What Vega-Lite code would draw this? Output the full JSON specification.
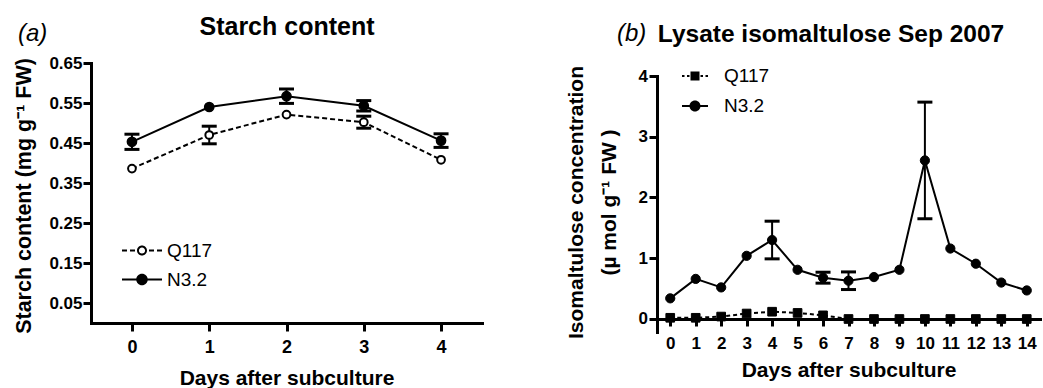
{
  "$schema": "https://vega.github.io/schema/vega-lite/v6.json",
  "background": "white",
  "padding": {"left": 13, "top": 14, "right": 2, "bottom": 0},
  "bounds": "flush",
  "spacing": 175,
  "resolve": {"scale": {"shape": "independent"}},
  "config": {
    "view": {"stroke": null},
    "font": "Liberation Sans",
    "axis": {
      "domainColor": "black", "domainWidth": 3, "domainCap": "square",
      "tickColor": "black", "tickWidth": 3,
      "labelColor": "black", "titleColor": "black",
      "labelFont": "Liberation Sans", "titleFont": "Liberation Sans",
      "labelFontWeight": "bold", "titleFontWeight": "bold",
      "grid": false, "labelOverlap": false, "labelFlush": false, "labelBound": false
    },
    "title": {"color": "black", "font": "Liberation Sans"}
  },
  "hconcat": [
    {
      "width": 391,
      "height": 260,
      "title": {"text": "(a)", "anchor": "start", "frame": "group", "dx": -73, "offset": -32, "fontSize": 24, "fontStyle": "italic", "fontWeight": "normal"},
      "data": {"values": [
        {"day": 0, "series": "Q117", "mean": 0.386},
        {"day": 1, "series": "Q117", "mean": 0.470, "err": 0.022},
        {"day": 2, "series": "Q117", "mean": 0.521},
        {"day": 3, "series": "Q117", "mean": 0.502, "err": 0.015},
        {"day": 4, "series": "Q117", "mean": 0.408},
        {"day": 0, "series": "N3.2", "mean": 0.453, "err": 0.019},
        {"day": 1, "series": "N3.2", "mean": 0.540},
        {"day": 2, "series": "N3.2", "mean": 0.567, "err": 0.018},
        {"day": 3, "series": "N3.2", "mean": 0.543, "err": 0.013},
        {"day": 4, "series": "N3.2", "mean": 0.456, "err": 0.017}
      ]},
      "encoding": {
        "x": {"field": "day", "type": "quantitative", "scale": {"domain": [-0.53, 4.53], "nice": false, "zero": false}, "axis": null},
        "y": {"field": "mean", "type": "quantitative", "scale": {"domain": [0, 0.65], "nice": false, "zero": false},
          "axis": {"title": "Starch content (mg g⁻¹ FW)", "values": [0.05, 0.15, 0.25, 0.35, 0.45, 0.55, 0.65], "format": ".2f",
            "labelFontSize": 17, "tickSize": 8, "labelPadding": 1, "titleFontSize": 21.5,
            "titleX": -60.5, "titleY": 132.5, "titleAlign": "center", "titleBaseline": "alphabetic", "titleAngle": 270}}
      },
      "layer": [
        {
          "transform": [{"filter": "datum.series === 'Q117'"}],
          "mark": {"type": "line", "color": "black", "strokeWidth": 2, "strokeDash": [5, 3]},
          "encoding": {
            "x": {"field": "day", "type": "quantitative", "scale": {"domain": [-0.53, 4.53], "nice": false, "zero": false},
              "axis": {"title": "Days after subculture", "values": [0, 1, 2, 3, 4], "format": "d", "labelFontSize": 18, "tickSize": 8, "labelPadding": 7,
                "titleFontSize": 21, "titleX": 195.5, "titleY": 61, "titleAlign": "center", "titleBaseline": "alphabetic"}}
          }
        },
        {
          "transform": [{"filter": "datum.series === 'N3.2'"}],
          "mark": {"type": "line", "color": "black", "strokeWidth": 2},
          "encoding": {}
        },
        {
          "transform": [{"filter": "isValid(datum.err)"}],
          "mark": {"type": "errorbar", "color": "black", "thickness": 2, "opacity": 1, "ticks": {"size": 15, "thickness": 3, "color": "black", "opacity": 1}, "rule": {"opacity": 1}},
          "encoding": {"yError": {"field": "err"}}
        },
        {
          "transform": [{"filter": "datum.series === 'Q117'"}],
          "mark": {"type": "point", "shape": "circle", "filled": true, "fill": "white", "stroke": "black", "strokeWidth": 2, "size": 60, "opacity": 1},
          "encoding": {}
        },
        {
          "transform": [{"filter": "datum.series === 'N3.2'"}],
          "mark": {"type": "point", "shape": "circle", "filled": true, "fill": "black", "stroke": "black", "strokeWidth": 1.5, "size": 85, "opacity": 1},
          "encoding": {}
        },
        {
          "mark": {"type": "point", "filled": true, "fill": "black", "strokeWidth": 0, "size": 100, "opacity": 0},
          "encoding": {
            "x": {"field": "day", "type": "quantitative", "scale": {"domain": [-0.53, 4.53], "nice": false, "zero": false},
              "axis": {"orient": "top", "title": "Starch content", "labels": false, "ticks": false, "domain": false,
                "titleFontSize": 25, "titleX": 195.5, "titleY": -29, "titleAlign": "center", "titleBaseline": "alphabetic"}},
            "shape": {"field": "series", "type": "nominal",
              "scale": {"domain": ["Q117", "N3.2"], "range": [
                "M-4,-0.2H-3V0.2H-4Z M-2.4,-0.2H-1.4V0.2H-2.4Z M1.4,-0.2H2.4V0.2H1.4Z M3,-0.2H4V0.2H3Z M1,0C1,0.55 0.55,1 0,1C-0.55,1 -1,0.55 -1,0C-1,-0.55 -0.55,-1 0,-1C0.55,-1 1,-0.55 1,0Z M0.62,0C0.62,-0.34 0.34,-0.62 0,-0.62C-0.34,-0.62 -0.62,-0.34 -0.62,0C-0.62,0.34 -0.34,0.62 0,0.62C0.34,0.62 0.62,0.34 0.62,0Z",
                "M-4,-0.2H-1V0.2H-4Z M1,-0.2H4V0.2H1Z M1.15,0C1.15,0.64 0.64,1.15 0,1.15C-0.64,1.15 -1.15,0.64 -1.15,0C-1.15,-0.64 -0.64,-1.15 0,-1.15C0.64,-1.15 1.15,-0.64 1.15,0Z"
              ]},
              "legend": {"title": null, "orient": "none", "legendX": 41.5, "legendY": 178, "padding": 0,
                "labelFontSize": 19, "labelFont": "Liberation Sans", "labelColor": "black", "labelOffset": 15.5, "rowPadding": 9,
                "symbolSize": 100, "symbolStrokeWidth": 0, "symbolOpacity": 1, "symbolFillColor": "black"}}
          }
        }
      ],
      "resolve": {"axis": {"x": "independent"}}
    },
    {
      "spacing": 0,
      "bounds": "flush",
      "resolve": {"scale": {"shape": "independent"}},
      "vconcat": [
        {"width": 383, "height": 13, "data": {"values": [{}]}, "mark": {"type": "point", "opacity": 0}},
        {
          "width": 383,
          "height": 256,
          "title": {"text": "(b)", "anchor": "start", "frame": "group", "dx": -40, "offset": -24.5, "fontSize": 24, "fontStyle": "italic", "fontWeight": "normal"},
          "data": {"values": [
            {"day": 0, "series": "Q117", "mean": 0.02},
            {"day": 1, "series": "Q117", "mean": 0.02},
            {"day": 2, "series": "Q117", "mean": 0.04},
            {"day": 3, "series": "Q117", "mean": 0.09},
            {"day": 4, "series": "Q117", "mean": 0.12},
            {"day": 5, "series": "Q117", "mean": 0.10},
            {"day": 6, "series": "Q117", "mean": 0.06},
            {"day": 7, "series": "Q117", "mean": 0.0},
            {"day": 8, "series": "Q117", "mean": 0.0},
            {"day": 9, "series": "Q117", "mean": 0.0},
            {"day": 10, "series": "Q117", "mean": 0.0},
            {"day": 11, "series": "Q117", "mean": 0.0},
            {"day": 12, "series": "Q117", "mean": 0.0},
            {"day": 13, "series": "Q117", "mean": 0.0},
            {"day": 14, "series": "Q117", "mean": 0.0},
            {"day": 0, "series": "N3.2", "mean": 0.34},
            {"day": 1, "series": "N3.2", "mean": 0.66},
            {"day": 2, "series": "N3.2", "mean": 0.52},
            {"day": 3, "series": "N3.2", "mean": 1.04},
            {"day": 4, "series": "N3.2", "mean": 1.30, "err": 0.31},
            {"day": 5, "series": "N3.2", "mean": 0.81},
            {"day": 6, "series": "N3.2", "mean": 0.68, "err": 0.09},
            {"day": 7, "series": "N3.2", "mean": 0.63, "err": 0.145},
            {"day": 8, "series": "N3.2", "mean": 0.69},
            {"day": 9, "series": "N3.2", "mean": 0.81},
            {"day": 10, "series": "N3.2", "mean": 2.61, "err": 0.96},
            {"day": 11, "series": "N3.2", "mean": 1.16},
            {"day": 12, "series": "N3.2", "mean": 0.91},
            {"day": 13, "series": "N3.2", "mean": 0.60},
            {"day": 14, "series": "N3.2", "mean": 0.47}
          ]},
          "encoding": {
            "x": {"field": "day", "type": "quantitative", "scale": {"domain": [-0.52, 14.52], "nice": false, "zero": false}, "axis": null},
            "y": {"field": "mean", "type": "quantitative", "scale": {"domain": [-0.214, 4], "nice": false, "zero": false},
              "axis": {"title": ["Isomaltulose concentration", "(µ mol g⁻¹ FW )"], "values": [0, 1, 2, 3, 4], "format": "d",
                "labelFontSize": 17, "tickSize": 8, "labelPadding": 1.5, "titleFontSize": 21, "titleLineHeight": 33,
                "titleX": -75, "titleY": 126, "titleAlign": "center", "titleBaseline": "alphabetic", "titleAngle": 270}}
          },
          "layer": [
            {
              "transform": [{"filter": "datum.series === 'Q117'"}],
              "mark": {"type": "line", "color": "black", "strokeWidth": 2, "strokeDash": [4, 3]},
              "encoding": {
                "x": {"field": "day", "type": "quantitative", "scale": {"domain": [-0.52, 14.52], "nice": false, "zero": false},
                  "axis": {"title": "Days after subculture", "offset": -13, "values": [0, 1, 2, 3, 4, 5, 6, 7, 8, 9, 10, 11, 12, 13, 14], "format": "d",
                    "labelFontSize": 17, "tickSize": 7, "labelPadding": 9.4,
                    "titleFontSize": 21, "titleX": 191.5, "titleY": 57, "titleAlign": "center", "titleBaseline": "alphabetic"}}
              }
            },
            {
              "transform": [{"filter": "datum.series === 'N3.2'"}],
              "mark": {"type": "line", "color": "black", "strokeWidth": 2},
              "encoding": {}
            },
            {
              "transform": [{"filter": "isValid(datum.err)"}],
              "mark": {"type": "errorbar", "color": "black", "thickness": 2, "opacity": 1, "ticks": {"size": 15, "thickness": 3, "color": "black", "opacity": 1}, "rule": {"opacity": 1}},
              "encoding": {"yError": {"field": "err"}}
            },
            {
              "transform": [{"filter": "datum.series === 'Q117'"}],
              "mark": {"type": "point", "shape": "square", "filled": true, "fill": "black", "stroke": "black", "strokeWidth": 1, "size": 75, "opacity": 1},
              "encoding": {}
            },
            {
              "transform": [{"filter": "datum.series === 'N3.2'"}],
              "mark": {"type": "point", "shape": "circle", "filled": true, "fill": "black", "stroke": "black", "strokeWidth": 1, "size": 85, "opacity": 1},
              "encoding": {}
            },
            {
              "mark": {"type": "point", "filled": true, "fill": "black", "strokeWidth": 0, "size": 100, "opacity": 0},
              "encoding": {
                "x": {"field": "day", "type": "quantitative", "scale": {"domain": [-0.52, 14.52], "nice": false, "zero": false},
                  "axis": {"orient": "top", "title": "Lysate isomaltulose Sep 2007", "labels": false, "ticks": false, "domain": false,
                    "titleFontSize": 24.5, "titleX": 173.5, "titleY": -34.5, "titleAlign": "center", "titleBaseline": "alphabetic"}},
                "shape": {"field": "series", "type": "nominal",
                  "scale": {"domain": ["Q117", "N3.2"], "range": [
                    "M-2.6,-0.2H-2.1V0.2H-2.6Z M-1.6,-0.2H-1.1V0.2H-1.6Z M1.1,-0.2H1.6V0.2H1.1Z M2.1,-0.2H2.6V0.2H2.1Z M-0.9,-0.9H0.9V0.9H-0.9Z",
                    "M-2.6,-0.2H-1V0.2H-2.6Z M1,-0.2H2.6V0.2H1Z M1.1,0C1.1,0.61 0.61,1.1 0,1.1C-0.61,1.1 -1.1,0.61 -1.1,0C-1.1,-0.61 -0.61,-1.1 0,-1.1C0.61,-1.1 1.1,-0.61 1.1,0Z"
                  ]},
                  "legend": {"title": null, "orient": "none", "legendX": 28.5, "legendY": -9.5, "padding": 0,
                    "labelFontSize": 19, "labelFont": "Liberation Sans", "labelColor": "black", "labelOffset": 19.5, "rowPadding": 10,
                    "symbolSize": 100, "symbolStrokeWidth": 0, "symbolOpacity": 1, "symbolFillColor": "black"}}
              }
            }
          ],
          "resolve": {"axis": {"x": "independent"}}
        }
      ]
    }
  ]
}
